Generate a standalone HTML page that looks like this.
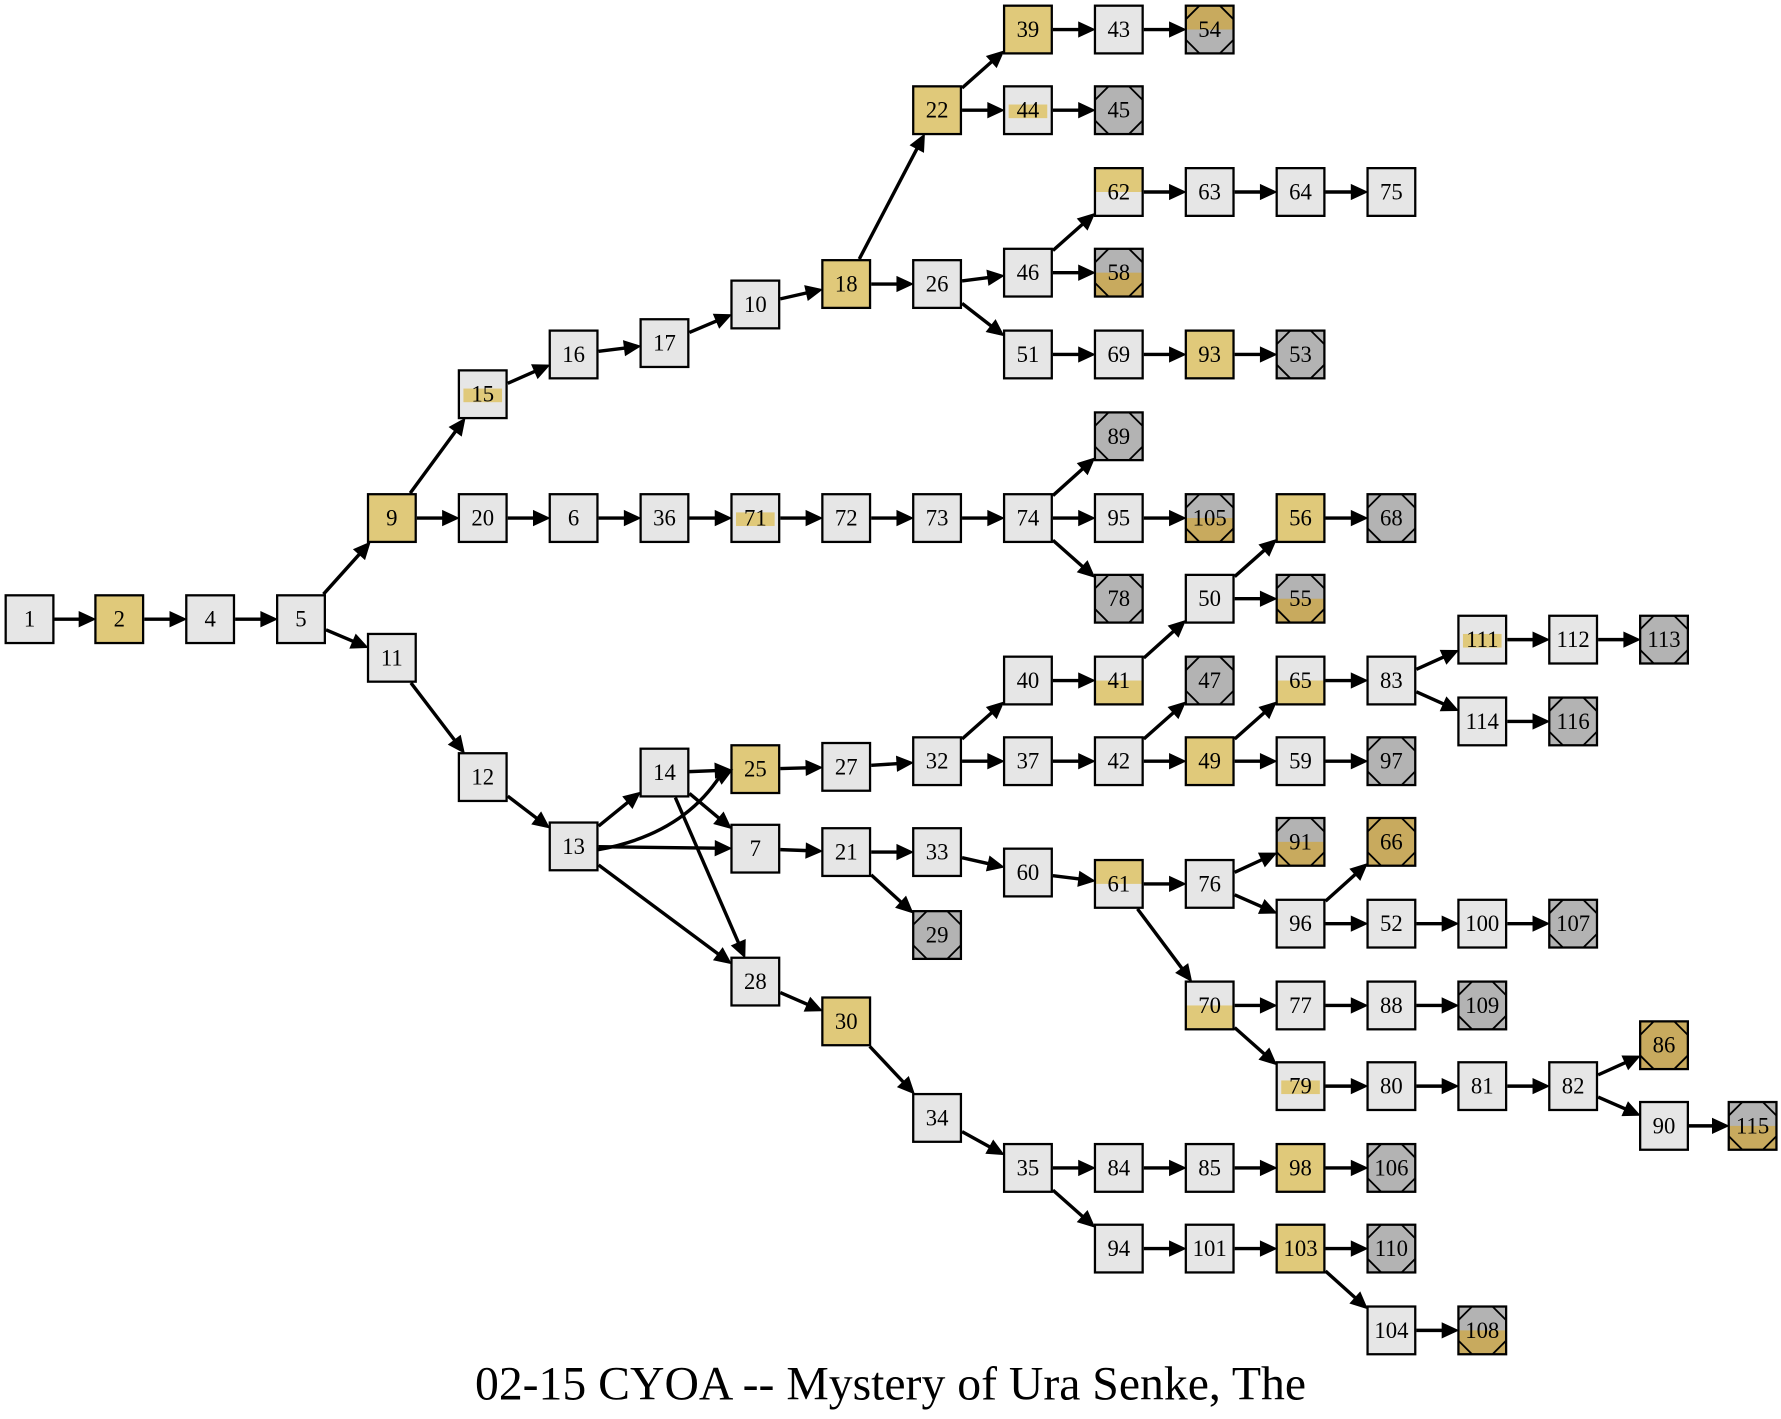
<!DOCTYPE html>
<html><head><meta charset="utf-8"><style>
html,body{margin:0;padding:0;background:#fff}
svg{display:block}
text{font-family:"Liberation Serif",serif;font-size:20px;text-anchor:middle;dominant-baseline:central;fill:#000}
</style></head><body>
<svg id="s" width="1781" height="1419" viewBox="0 0 1568 1249" preserveAspectRatio="none">
<rect width="1568" height="1249" fill="#fff"/>
<g id="shapes"></g><g id="edges"></g>
<g id="labels">
<text x="26" y="545">1</text><text x="105" y="545">2</text><text x="185" y="545">4</text><text x="265" y="545">5</text>
<text x="345" y="456">9</text><text x="345" y="579">11</text><text x="425" y="347">15</text><text x="425" y="456">20</text>
<text x="505" y="312">16</text><text x="585" y="302">17</text><text x="665" y="268">10</text><text x="745" y="250">18</text>
<text x="825" y="97">22</text><text x="825" y="250">26</text><text x="905" y="26">39</text><text x="985" y="26">43</text>
<text x="1065" y="26">54</text><text x="905" y="97">44</text><text x="985" y="97">45</text><text x="905" y="240">46</text>
<text x="905" y="312">51</text><text x="985" y="169">62</text><text x="985" y="240">58</text><text x="1065" y="169">63</text>
<text x="1145" y="169">64</text><text x="1225" y="169">75</text><text x="985" y="312">69</text><text x="1065" y="312">93</text>
<text x="1145" y="312">53</text><text x="505" y="456">6</text><text x="585" y="456">36</text><text x="665" y="456">71</text>
<text x="745" y="456">72</text><text x="825" y="456">73</text><text x="905" y="456">74</text><text x="985" y="384">89</text>
<text x="985" y="456">95</text><text x="1065" y="456">105</text><text x="985" y="527">78</text><text x="1145" y="456">56</text>
<text x="1225" y="456">68</text><text x="1065" y="527">50</text><text x="1145" y="527">55</text><text x="425" y="684">12</text>
<text x="505" y="745">13</text><text x="585" y="680">14</text><text x="665" y="677">25</text><text x="665" y="747">7</text>
<text x="665" y="864">28</text><text x="745" y="675">27</text><text x="825" y="670">32</text><text x="905" y="599">40</text>
<text x="905" y="670">37</text><text x="985" y="599">41</text><text x="985" y="670">42</text><text x="1065" y="599">47</text>
<text x="1065" y="670">49</text><text x="1145" y="599">65</text><text x="1145" y="670">59</text><text x="1225" y="670">97</text>
<text x="1225" y="599">83</text><text x="1305" y="563">111</text><text x="1305" y="635">114</text><text x="1385" y="563">112</text>
<text x="1465" y="563">113</text><text x="1385" y="635">116</text><text x="745" y="750">21</text><text x="825" y="750">33</text>
<text x="825" y="823">29</text><text x="905" y="768">60</text><text x="985" y="778">61</text><text x="1065" y="778">76</text>
<text x="1145" y="741">91</text><text x="1145" y="813">96</text><text x="1225" y="741">66</text><text x="1225" y="813">52</text>
<text x="1305" y="813">100</text><text x="1385" y="813">107</text><text x="1065" y="885">70</text><text x="1145" y="885">77</text>
<text x="1225" y="885">88</text><text x="1305" y="885">109</text><text x="1145" y="956">79</text><text x="1225" y="956">80</text>
<text x="1305" y="956">81</text><text x="1385" y="956">82</text><text x="1465" y="920">86</text><text x="1465" y="991">90</text>
<text x="1543" y="991">115</text><text x="745" y="899">30</text><text x="825" y="984">34</text><text x="905" y="1028">35</text>
<text x="985" y="1028">84</text><text x="1065" y="1028">85</text><text x="1145" y="1028">98</text><text x="1225" y="1028">106</text>
<text x="985" y="1099">94</text><text x="1065" y="1099">101</text><text x="1145" y="1099">103</text><text x="1225" y="1099">110</text>
<text x="1225" y="1171">104</text><text x="1305" y="1171">108</text>
</g>
<text x="784" y="1218" style="font-size:42px">02-15 CYOA -- Mystery of Ura Senke, The</text>
</svg>
<script>
(function(){
var NS="http://www.w3.org/2000/svg",P={},H=21;
var lab=document.querySelectorAll('#labels text');
lab.forEach(function(t){P[t.textContent]=[+t.getAttribute('x'),+t.getAttribute('y')];});
var gold="2 9 18 22 39 93 56 25 49 30 98 103".split(' ');
var stripe="15 44 71 111 79".split(' ');
var topg="62 61".split(' ');
var botg="41 65 70".split(' ');
var end="45 53 89 78 68 47 97 113 116 29 107 109 106 110".split(' ');
var endTop="54".split(' ');
var endBot="58 105 55 91 115 108".split(' ');
var endGold="66 86".split(' ');
var S=document.getElementById('shapes');
function el(n,a,p){var e=document.createElementNS(NS,n);for(var k in a)e.setAttribute(k,a[k]);(p||S).appendChild(e);return e;}
var G="#e0c97a",GR="#e6e6e6",EG="#b3b3b3",EGD="#c8aa5e";
for(var id in P){var x=P[id][0],y=P[id][1];
 var isEnd=end.concat(endTop,endBot,endGold).indexOf(id)>=0;
 var f=gold.indexOf(id)>=0?G:(isEnd?(endGold.indexOf(id)>=0?EGD:EG):GR);
 el('rect',{x:x-H,y:y-H,width:2*H,height:2*H,fill:f});
 if(topg.indexOf(id)>=0)el('rect',{x:x-H,y:y-H,width:2*H,height:H,fill:G});
 if(botg.indexOf(id)>=0)el('rect',{x:x-H,y:y,width:2*H,height:H,fill:G});
 if(endTop.indexOf(id)>=0)el('rect',{x:x-H,y:y-H,width:2*H,height:H,fill:EGD});
 if(endBot.indexOf(id)>=0)el('rect',{x:x-H,y:y,width:2*H,height:H,fill:EGD});
 if(stripe.indexOf(id)>=0)el('rect',{x:x-17,y:y-5,width:34,height:12,fill:G});
 el('rect',{x:x-H,y:y-H,width:2*H,height:2*H,fill:'none',stroke:'#000','stroke-width':2});
 if(isEnd){var c=12;el('path',{d:'M'+(x-H)+' '+(y-H+c)+'L'+(x-H+c)+' '+(y-H)+'M'+(x+H-c)+' '+(y-H)+'L'+(x+H)+' '+(y-H+c)+'M'+(x+H)+' '+(y+H-c)+'L'+(x+H-c)+' '+(y+H)+'M'+(x-H+c)+' '+(y+H)+'L'+(x-H)+' '+(y+H-c),stroke:'#000','stroke-width':1.6,fill:'none'});}
}
var E="1-2 2-4 4-5 5-9 5-11 9-15 9-20 15-16 16-17 17-10 10-18 18-22 18-26 22-39 22-44 39-43 43-54 44-45 26-46 26-51 46-62 46-58 62-63 63-64 64-75 51-69 69-93 93-53 20-6 6-36 36-71 71-72 72-73 73-74 74-89 74-95 74-78 95-105 50-56 50-55 56-68 41-50 11-12 12-13 13-14 13-7 13-28 14-25 14-7 14-28 25-27 27-32 32-40 32-37 40-41 37-42 42-47 42-49 49-65 49-59 59-97 65-83 83-111 83-114 111-112 112-113 114-116 7-21 21-33 21-29 33-60 60-61 61-76 61-70 76-91 76-96 96-66 96-52 52-100 100-107 70-77 70-79 77-88 88-109 79-80 80-81 81-82 82-86 82-90 90-115 28-30 30-34 34-35 35-84 35-94 84-85 85-98 98-106 94-101 101-103 103-110 103-104 104-108".split(' ');
var EG_=document.getElementById('edges');
function clip(c,dx,dy){var h=H+1,t=Math.min(Math.abs(dx)>1e-6?h/Math.abs(dx):1e9,Math.abs(dy)>1e-6?h/Math.abs(dy):1e9);return [c[0]+dx*t,c[1]+dy*t];}
function arrow(tip,ux,uy){var L=13,W=6,bx=tip[0]-ux*L,by=tip[1]-uy*L;
 el('path',{d:'M'+tip[0]+' '+tip[1]+'L'+(bx-uy*W)+' '+(by+ux*W)+'L'+(bx+uy*W)+' '+(by-ux*W)+'Z',fill:'#000',stroke:'#000','stroke-width':1.5},EG_);}
E.forEach(function(e){var a=P[e.split('-')[0]],b=P[e.split('-')[1]];
 var dx=b[0]-a[0],dy=b[1]-a[1],d=Math.hypot(dx,dy),ux=dx/d,uy=dy/d;
 var s=clip(a,ux,uy),t=clip(b,-ux,-uy);
 el('line',{x1:s[0],y1:s[1],x2:t[0]-ux*12,y2:t[1]-uy*12,stroke:'#000','stroke-width':3},EG_);
 arrow(t,ux,uy);});
var a=P['13'],b=P['25'];
el('path',{d:'M'+(a[0]+H)+' '+(a[1]+3)+'Q600 735 '+(b[0]-H-10)+' '+(b[1]+6),stroke:'#000','stroke-width':3,fill:'none'},EG_);
var ux=0.88,uy=-0.47;arrow([b[0]-H,b[1]+1],ux,uy);
})();
</script>
</body></html>
